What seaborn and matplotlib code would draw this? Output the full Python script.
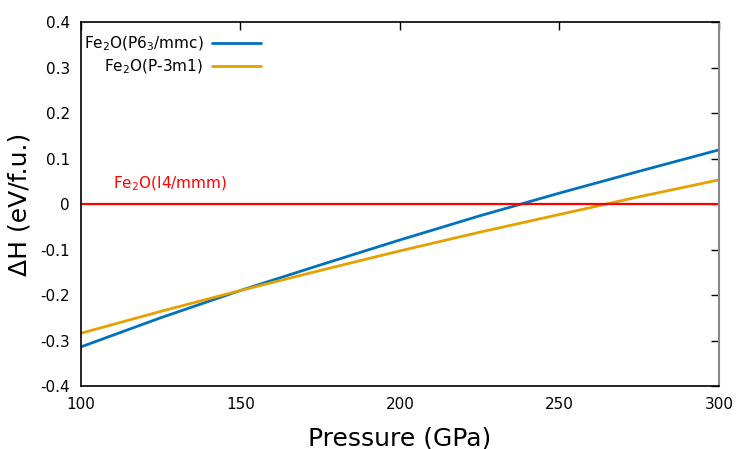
import pandas as pd
import matplotlib
matplotlib.use("Agg")
import matplotlib.pyplot as plt
import seaborn as sns

# Values
pressure = [100, 125, 150, 175, 200, 225, 250, 275, 300]
dh_p63mmc = [-0.314, -0.250, -0.190, -0.134, -0.079, -0.026, 0.024, 0.072, 0.119]
dh_p3m1 = [-0.284, -0.236, -0.190, -0.146, -0.103, -0.062, -0.023, 0.016, 0.053]
dh_i4mmm = [0.0] * len(pressure)

labels = ['Fe$_2$O(P6$_3$/mmc)', 'Fe$_2$O(P-3m1)']
ref_label = 'Fe$_2$O(I4/mmm)'
x_ticks = [100, 150, 200, 250, 300]
y_ticks = [-0.4, -0.3, -0.2, -0.1, 0, 0.1, 0.2, 0.3, 0.4]

df = pd.DataFrame({'P': pressure * 2,
                   'dH': dh_p63mmc + dh_p3m1,
                   'phase': [labels[0]] * len(pressure) + [labels[1]] * len(pressure)})

sns.set_style('white')
plt.rcParams['font.family'] = ['DejaVu Sans']
plt.rcParams['mathtext.fontset'] = 'dejavusans'
plt.rcParams['text.color'] = 'black'

fig = plt.figure(figsize=(7.47, 4.49), dpi=100)
ax = fig.add_axes([0.1084, 0.1403, 0.8541, 0.8107])

sns.lineplot(data=df, x='P', y='dH', hue='phase', palette=['#0072bd', '#e6a000'],
             linewidth=2, ax=ax)
ax.plot(pressure, dh_i4mmm, color='#ff0000', linewidth=1.6)
ax.text(110, 0.035, ref_label, color='#ff0000', fontsize=11)

ax.set_xlim(100, 300)
ax.set_ylim(-0.4, 0.4)
ax.set_xticks(x_ticks)
ax.set_yticks(y_ticks)
ax.set_yticklabels(['-0.4', '-0.3', '-0.2', '-0.1', '0', '0.1', '0.2', '0.3', '0.4'])
ax.tick_params(direction='in', top=True, right=True, length=6, width=1,
               labelsize=11, colors='black', pad=8)
for s in ax.spines.values():
    s.set_color('black')
    s.set_linewidth(1.2)
ax.spines['right'].set_color('#888888')
ax.spines['right'].set_linewidth(1.5)

ax.set_xlabel('Pressure (GPa)', fontsize=18, labelpad=10, color='black')
ax.set_ylabel('ΔH (eV/f.u.)', fontsize=18, labelpad=6, color='black')

leg = ax.legend(loc='upper left', markerfirst=False, frameon=False, fontsize=11,
                handlelength=3.2, borderaxespad=0.3, labelspacing=0.3,
                handletextpad=0.6, borderpad=0.2, bbox_to_anchor=(-0.008, 0.985))
for t in leg.get_texts():
    t.set_color('black')

fig.savefig('out.png', dpi=100)
